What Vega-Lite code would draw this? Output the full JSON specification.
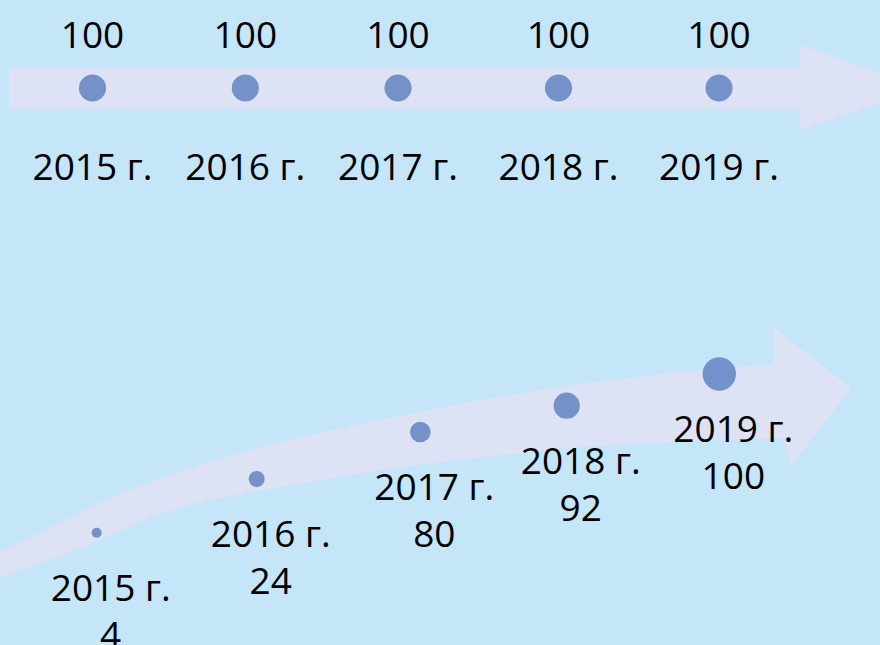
{
  "$schema": "https://vega.github.io/schema/vega-lite/v6.json",
  "width": 880,
  "height": 645,
  "autosize": "none",
  "padding": 0,
  "background": "#c5e6f8",
  "config": {"view": {"stroke": null}},
  "datasets": {
    "topArrow": [
      {"o": 1, "px": 9, "py": 67},
      {"o": 2, "px": 800, "py": 67},
      {"o": 3, "px": 800, "py": 45},
      {"o": 4, "px": 880, "py": 73},
      {"o": 5, "px": 880, "py": 103},
      {"o": 6, "px": 800, "py": 130},
      {"o": 7, "px": 800, "py": 109},
      {"o": 8, "px": 9, "py": 109}
    ],
    "curveArrow": [
      {"o": 1, "px": 0, "py": 552},
      {"o": 2, "px": 50, "py": 527},
      {"o": 3, "px": 100, "py": 502},
      {"o": 4, "px": 150, "py": 482},
      {"o": 5, "px": 200, "py": 465},
      {"o": 6, "px": 250, "py": 450},
      {"o": 7, "px": 300, "py": 437},
      {"o": 8, "px": 380, "py": 420},
      {"o": 9, "px": 480, "py": 400},
      {"o": 10, "px": 580, "py": 384},
      {"o": 11, "px": 680, "py": 372},
      {"o": 12, "px": 773, "py": 364},
      {"o": 13, "px": 773, "py": 327},
      {"o": 14, "px": 851, "py": 388},
      {"o": 15, "px": 790, "py": 467},
      {"o": 16, "px": 785, "py": 438},
      {"o": 17, "px": 690, "py": 441},
      {"o": 18, "px": 580, "py": 447},
      {"o": 19, "px": 480, "py": 457},
      {"o": 20, "px": 380, "py": 470},
      {"o": 21, "px": 280, "py": 487},
      {"o": 22, "px": 250, "py": 492},
      {"o": 23, "px": 200, "py": 502},
      {"o": 24, "px": 150, "py": 517},
      {"o": 25, "px": 100, "py": 540},
      {"o": 26, "px": 50, "py": 560},
      {"o": 27, "px": 0, "py": 577}
    ],
    "top": [
      {"year": "2015 г.", "value": 100, "px": 92.5, "py": 88},
      {"year": "2016 г.", "value": 100, "px": 245.3, "py": 88},
      {"year": "2017 г.", "value": 100, "px": 398, "py": 88},
      {"year": "2018 г.", "value": 100, "px": 558.5, "py": 88},
      {"year": "2019 г.", "value": 100, "px": 719, "py": 88}
    ],
    "bottom": [
      {"year": "2015 г.", "value": 4, "px": 96.7, "py": 532.7},
      {"year": "2016 г.", "value": 24, "px": 256.7, "py": 479},
      {"year": "2017 г.", "value": 80, "px": 420.3, "py": 432},
      {"year": "2018 г.", "value": 92, "px": 566.7, "py": 405.7},
      {"year": "2019 г.", "value": 100, "px": 719.3, "py": 374}
    ]
  },
  "encoding": {
    "x": {"field": "px", "type": "quantitative", "axis": null, "scale": {"domain": [0, 880], "nice": false, "zero": false}},
    "y": {"field": "py", "type": "quantitative", "axis": null, "scale": {"domain": [0, 645], "nice": false, "zero": false, "reverse": true}}
  },
  "layer": [
    {
      "data": {"name": "topArrow"},
      "mark": {"type": "line", "fill": "#dde2f5", "strokeWidth": 0, "interpolate": "linear-closed"},
      "encoding": {"order": {"field": "o", "type": "quantitative"}}
    },
    {
      "data": {"name": "curveArrow"},
      "mark": {"type": "line", "fill": "#dde2f5", "strokeWidth": 0, "interpolate": "linear-closed"},
      "encoding": {"order": {"field": "o", "type": "quantitative"}}
    },
    {
      "data": {"name": "top"},
      "mark": {"type": "circle", "color": "#7591c9", "opacity": 1, "size": 735},
      "encoding": {}
    },
    {
      "data": {"name": "top"},
      "mark": {"type": "text", "font": "Open Sans", "fontSize": 37, "color": "#000000", "align": "center", "baseline": "alphabetic", "dy": -40},
      "encoding": {"text": {"field": "value", "type": "quantitative"}}
    },
    {
      "data": {"name": "top"},
      "mark": {"type": "text", "font": "Open Sans", "fontSize": 37, "color": "#000000", "align": "center", "baseline": "alphabetic", "dy": 92},
      "encoding": {"text": {"field": "year", "type": "nominal"}}
    },
    {
      "data": {"name": "bottom"},
      "mark": {"type": "circle", "color": "#7591c9", "opacity": 1},
      "encoding": {
        "size": {"field": "year", "type": "nominal", "legend": null, "scale": {"type": "ordinal", "domain": ["2015 г.", "2016 г.", "2017 г.", "2018 г.", "2019 г."], "range": [101, 254, 428, 690, 1113]}}
      }
    },
    {
      "data": {"name": "bottom"},
      "mark": {"type": "text", "font": "Open Sans", "fontSize": 37, "color": "#000000", "align": "center", "baseline": "alphabetic", "dx": 14, "dy": 68},
      "encoding": {"text": {"field": "year", "type": "nominal"}}
    },
    {
      "data": {"name": "bottom"},
      "mark": {"type": "text", "font": "Open Sans", "fontSize": 37, "color": "#000000", "align": "center", "baseline": "alphabetic", "dx": 14, "dy": 115},
      "encoding": {"text": {"field": "value", "type": "quantitative"}}
    }
  ]
}
